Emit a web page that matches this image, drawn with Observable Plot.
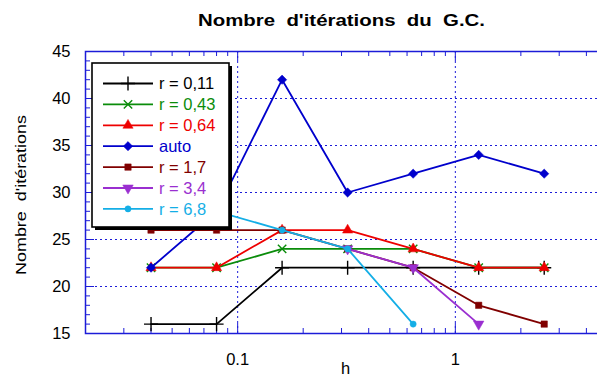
<!DOCTYPE html>
<html>
<head>
<meta charset="utf-8">
<script src="https://cdn.jsdelivr.net/npm/d3@7"></script>
<script src="https://cdn.jsdelivr.net/npm/@observablehq/plot@0.6"></script>
<style>
  html, body { margin: 0; padding: 0; background: #fff; overflow: hidden; }
  #chart svg { display: block; }
</style>
</head>
<body>
<div id="chart"></div>
<script>
// ---- data ----
const h = [0.04, 0.08, 0.16, 0.32, 0.64, 1.28, 2.56];
const r011 = [16, 16, 22, 22, 22, 22, 22];
const r043 = [22, 22, 24, 24, 24, 22, 22];
const r064 = [22, 22, 26, 26, 24, 22, 22];
const autoH = [0.04, 0.08, 0.16, 0.32, 0.64, 1.28, 2.56];
const auto = [22, 28, 42, 30, 32, 34, 32];
const r17 = [26, 26, 26, 24, 22, 18, 16];
const h34 = [0.32, 0.64, 1.28];
const r34 = [24, 22, 16];
const h68 = [0.08, 0.16, 0.32, 0.64];
const r68 = [28, 26, 24, 16];

const seriesNames = ["r = 0,11", "r = 0,43", "r = 0,64", "auto", "r = 1,7", "r = 3,4", "r = 6,8"];
const yMajor = [20, 25, 30, 35, 40];
const yLabels = [15, 20, 25, 30, 35, 40, 45];
const yMinor = [16,17,18,19,21,22,23,24,26,27,28,29,31,32,33,34,36,37,38,39,41,42,43,44];
const xMajor = [0.1, 1];
const xMinor = [0.03,0.04,0.05,0.06,0.07,0.08,0.09,0.2,0.3,0.4,0.5,0.6,0.7,0.8,0.9,2,3,4];

const titleText = "Nombre  d'itérations  du  G.C.";
const yTitle = "Nombre  d'itérations";
const xTitle = "h";

// ---- styling table built from the data ----
const styles = [
  {xs: h,     ys: r011, color: "#000000", symbol: "plus",     r: 4.6, filled: false, rotate: 0},
  {xs: h,     ys: r043, color: "#0a8c0a", symbol: "times",    r: 3.9, filled: false, rotate: 0},
  {xs: h,     ys: r064, color: "#ee0000", symbol: "triangle", r: 3.8, filled: true,  rotate: 0},
  {xs: autoH, ys: auto, color: "#0000cc", symbol: "square",   r: 3.7, filled: true,  rotate: 45},
  {xs: h,     ys: r17,  color: "#800000", symbol: "square",   r: 3.6, filled: true,  rotate: 0},
  {xs: h34,   ys: r34,  color: "#9a2fd0", symbol: "triangle", r: 3.9, filled: true,  rotate: 180},
  {xs: h68,   ys: r68,  color: "#14aee6", symbol: "circle",   r: 3.1, filled: true,  rotate: 0}
].map((s, i) => ({...s, name: seriesNames[i]}));

const frameBlue = "#1c1cd8";
const W = 597, H = 378;
const mL = 85, mR = -10, mT = 51, mB = 45;
const innerW = W - mL - mR, innerH = H - mT - mB;

const marks = [
  Plot.ruleY(yMajor, {stroke: frameBlue, strokeDasharray: "2,3", strokeWidth: 1}),
  Plot.ruleX(xMajor, {stroke: frameBlue, strokeDasharray: "2,3", strokeWidth: 1}),
  // inner ticks
  Plot.ruleY(yMinor, {stroke: frameBlue, insetRight: innerW - 5}),
  Plot.ruleY(yMajor, {stroke: frameBlue, insetRight: innerW - 9}),
  Plot.ruleX(xMinor, {stroke: frameBlue, insetTop: innerH - 5}),
  Plot.ruleX(xMajor, {stroke: frameBlue, insetTop: innerH - 10}),
  Plot.ruleX(xMinor, {stroke: frameBlue, insetBottom: innerH - 5}),
  Plot.ruleX(xMajor, {stroke: frameBlue, insetBottom: innerH - 10}),
  Plot.frame({stroke: frameBlue, strokeWidth: 1.5}),
  Plot.axisY(yLabels, {tickSize: 0, tickPadding: 15, fontSize: 16.5, label: null}),
  Plot.axisX(xMajor, {tickSize: 0, tickPadding: 20, fontSize: 16.5, label: null, tickFormat: d => String(d)})
];

for (const s of styles) {
  const rows = s.xs.map((x, i) => ({x, y: s.ys[i]}));
  marks.push(Plot.line(rows, {x: "x", y: "y", stroke: s.color, strokeWidth: 1.8}));
  marks.push(Plot.dot(rows, {
    x: "x", y: "y", r: s.r, symbol: s.symbol, rotate: s.rotate,
    fill: s.filled ? s.color : "none", stroke: s.color, strokeWidth: s.filled ? 0.5 : 1.4
  }));
}

const chart = Plot.plot({
  width: W, height: H,
  marginLeft: mL, marginRight: mR, marginTop: mT, marginBottom: mB,
  style: {fontFamily: "'Liberation Sans', Arial, sans-serif", fontSize: "16px", background: "#fff", color: "#000"},
  x: {type: "log", domain: [0.02, 5]},
  y: {domain: [15, 45]},
  marks
});
document.getElementById("chart").appendChild(chart);

// ---- title, axis titles, legend ----
const svg = d3.select(chart);
svg.append("text")
  .attr("x", 341.5).attr("y", 26)
  .attr("text-anchor", "middle")
  .attr("font-weight", "bold").attr("font-size", 16)
  .attr("textLength", 287).attr("lengthAdjust", "spacingAndGlyphs")
  .style("white-space", "pre")
  .attr("fill", "#000")
  .text(titleText);

svg.append("text")
  .attr("transform", "translate(25.5,195) rotate(-90)")
  .attr("text-anchor", "middle")
  .attr("font-size", 15.5)
  .attr("textLength", 160).attr("lengthAdjust", "spacingAndGlyphs")
  .style("white-space", "pre")
  .attr("fill", "#000")
  .text(yTitle);

svg.append("text")
  .attr("x", 345.5).attr("y", 374)
  .attr("text-anchor", "middle")
  .attr("font-size", 16.5)
  .attr("fill", "#000")
  .text(xTitle);

const lg = svg.append("g");
lg.append("rect").attr("x", 95).attr("y", 66).attr("width", 137).attr("height", 164).attr("fill", "#000");
lg.append("rect").attr("x", 92).attr("y", 63).attr("width", 137).attr("height", 164)
  .attr("fill", "#fff").attr("stroke", "#000").attr("stroke-width", 1.6);

const symMap = {plus: d3.symbolPlus, times: d3.symbolTimes, triangle: d3.symbolTriangle, square: d3.symbolSquare, circle: d3.symbolCircle};
styles.forEach((s, i) => {
  const yy = 83.5 + i * 20.9;
  lg.append("line").attr("x1", 103).attr("x2", 153).attr("y1", yy).attr("y2", yy)
    .attr("stroke", s.color).attr("stroke-width", 1.8);
  lg.append("path")
    .attr("d", d3.symbol(symMap[s.symbol], Math.PI * s.r * s.r)())
    .attr("transform", `translate(128,${yy}) rotate(${s.rotate})`)
    .attr("fill", s.filled ? s.color : "none")
    .attr("stroke", s.color).attr("stroke-width", s.filled ? 0.5 : 1.4);
  lg.append("text").attr("x", 159).attr("y", yy).attr("dy", "0.36em")
    .attr("text-anchor", "start")
    .attr("font-size", 16.5).attr("fill", s.color).text(s.name);
});
</script>
</body>
</html>
